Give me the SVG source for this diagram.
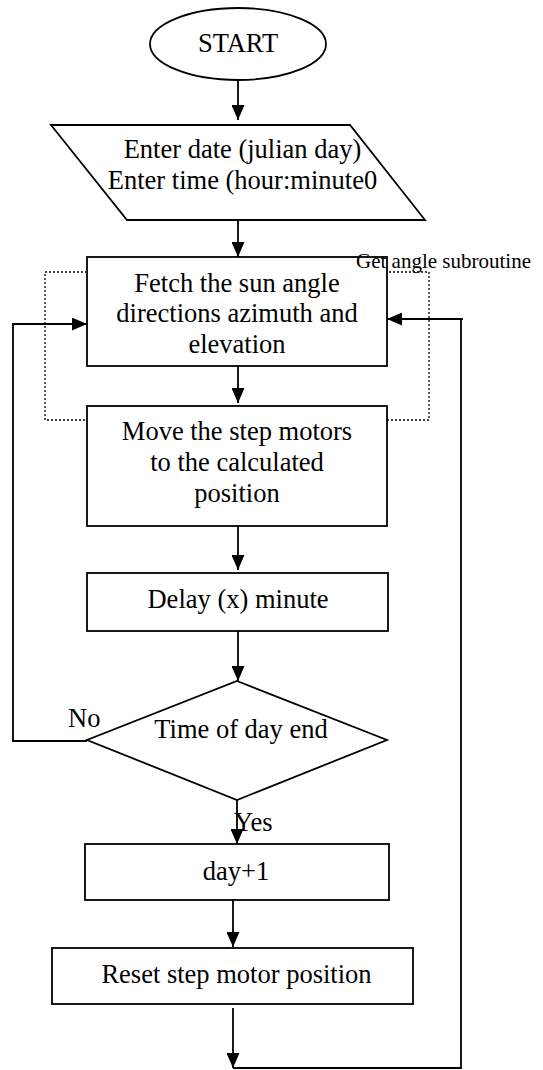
<svg xmlns="http://www.w3.org/2000/svg" width="543" height="1070" viewBox="0 0 543 1070">
<style>
.shape{fill:#fff;stroke:#000;stroke-width:1.8}
.t{font-family:"Liberation Serif","Times New Roman",serif;font-size:26.5px;fill:#000;text-anchor:middle}
.ts{font-family:"Liberation Serif","Times New Roman",serif;font-size:21px;fill:#000}
.lbl{font-family:"Liberation Serif","Times New Roman",serif;font-size:26.5px;fill:#000}
.c{fill:none;stroke:#000;stroke-width:1.8}
.dot{fill:none;stroke:#000;stroke-width:1.3;stroke-dasharray:2 2}
</style>
<defs>
<marker id="ah" markerWidth="15" markerHeight="13" refX="15" refY="6.5" orient="auto" markerUnits="userSpaceOnUse">
<path d="M0,0 L15,6.5 L0,13 Z" fill="#000"/>
</marker>
</defs>
<rect id="subroutine" class="dot" x="45" y="272" width="384" height="148"/>
<g id="connectors">
<line class="c" x1="238" y1="80" x2="238" y2="120" marker-end="url(#ah)"/>
<line class="c" x1="238" y1="218" x2="238" y2="257" marker-end="url(#ah)"/>
<line class="c" x1="238" y1="366" x2="238" y2="403" marker-end="url(#ah)"/>
<line class="c" x1="238" y1="526" x2="238" y2="570" marker-end="url(#ah)"/>
<line class="c" x1="238" y1="631" x2="238" y2="681" marker-end="url(#ah)"/>
<polyline class="c" points="87,741 13,741 13,324 87,324" marker-end="url(#ah)"/>
<line class="c" x1="237" y1="800" x2="237" y2="844" marker-end="url(#ah)"/>
<line class="c" x1="233" y1="900" x2="233" y2="947" marker-end="url(#ah)"/>
<line class="c" x1="233" y1="1008" x2="233" y2="1068" marker-end="url(#ah)"/>
<polyline class="c" points="233,1068 461,1068 461,319 463,319"/>
<line class="c" x1="461" y1="319" x2="387" y2="319" marker-end="url(#ah)"/>
</g>
<g id="start">
<ellipse class="shape" cx="238" cy="44" rx="88" ry="36"/>
<text class="t" x="238" y="52">START</text>
</g>
<g id="input">
<polygon class="shape" points="51,125 350,125 425,220 127,220"/>
<text class="t" x="242.5" y="158">Enter date (julian day)</text>
<text class="t" x="242.5" y="189">Enter time (hour:minute0</text>
</g>
<g id="fetch">
<rect class="shape" x="87" y="257" width="300" height="109"/>
<text class="t" x="237" y="292">Fetch the sun angle</text>
<text class="t" x="237" y="322">directions azimuth and</text>
<text class="t" x="237" y="353">elevation</text>
</g>
<g id="move">
<rect class="shape" x="87" y="406" width="300" height="120"/>
<text class="t" x="237" y="440">Move the step motors</text>
<text class="t" x="237" y="471">to the calculated</text>
<text class="t" x="237" y="502">position</text>
</g>
<text id="subroutine-label" class="ts" x="356" y="268">Get angle subroutine</text>
<g id="delay">
<rect class="shape" x="87" y="573" width="301" height="58"/>
<text class="t" x="238" y="608">Delay (x) minute</text>
</g>
<g id="decision">
<polygon class="shape" points="237,681 387,740 237,800 87,740"/>
<text class="t" x="241" y="738">Time of day end</text>
</g>
<text id="no-label" class="lbl" x="68" y="727">No</text>
<text id="yes-label" class="lbl" x="234" y="831">Yes</text>
<g id="dayplus">
<rect class="shape" x="85" y="844" width="304" height="56"/>
<text class="t" x="236" y="880">day+1</text>
</g>
<g id="reset">
<rect class="shape" x="52" y="948" width="361" height="56"/>
<text class="t" x="236.5" y="983">Reset step motor position</text>
</g>
</svg>
